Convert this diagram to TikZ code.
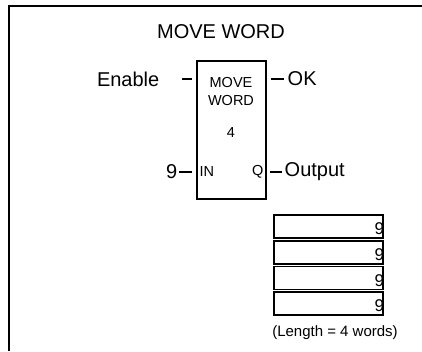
\documentclass[tikz,border=0pt]{standalone}
\usepackage{fontspec}
\setmainfont{Liberation Sans}
\usetikzlibrary{positioning, calc}

\begin{document}
\begin{tikzpicture}[
        x=1pt, y=-1pt,
        frame/.style={line width=1.8pt},
        block/.style={draw, line width=1.8pt, minimum width=69pt, minimum height=138pt, inner sep=0pt},
        inlabel/.style={inner sep=0.5pt, font=\fontsize{14.5}{16}\selectfont},
        pinlabel/.style={inner sep=0.5pt, font=\fontsize{20}{24}\selectfont},
        stub/.style={line width=1.5pt},
        reg/.style={draw, line width=1.6pt, minimum width=109pt, minimum height=23pt, inner sep=0pt},
        digit/.style={inner sep=0pt, font=\fontsize{17}{19}\selectfont},
        caption/.style={inner sep=0pt, font=\fontsize{15}{18}\selectfont}
    ]
        \useasboundingbox (0,0) rectangle (422,351);

        % Frame
        \draw[frame] (9,351) -- (9,6) -- (422,6);
        \node[pinlabel] (title) at (221,32) {MOVE WORD};

        % Block
        \node[block] (blk) at (231.5,130) {};
        \node[inlabel] (mv) at (231,83) {MOVE};
        \node[inlabel] (wd) at (231,100.5) {WORD};
        \node[inlabel] (cnt) at (231,133) {4};
        \node[inlabel, anchor=west] (in) at (199,172) {IN};
        \node[inlabel, anchor=east] (q) at (264,172) {Q};

        % Pin labels
        \node[pinlabel, anchor=east] (en) at (160,79) {Enable};
        \node[pinlabel, anchor=west] (ok) at (287,79) {OK};
        \node[pinlabel, anchor=east] (nine) at (178,172) {9};
        \node[pinlabel, anchor=west] (out) at (284,172) {Output};

        % Pin stubs
        \draw[stub] ($(blk.west |- en)+(-14,0)$) -- ($(blk.west |- en)+(-4,0)$);
        \draw[stub] ($(blk.east |- ok)+(4,0)$) -- ($(blk.east |- ok)+(17,0)$);
        \draw[stub] ($(blk.west |- nine)+(-17,0)$) -- ($(blk.west |- nine)+(-4,0)$);
        \draw[stub] ($(blk.east |- out)+(3,0)$) -- ($(blk.east |- out)+(15,0)$);

        % Registers
        \foreach \i/\y in {1/226.5, 2/252.2, 3/277.9, 4/303.6} {
            \node[reg] (r\i) at (328.5,\y) {};
            \node[digit, anchor=east] (d\i) at ($(r\i.east)+(0.5,2.5)$) {9};
        }
        \node[caption] (len) at (335,333) {(Length = 4 words)};
    \end{tikzpicture}
\end{document}
